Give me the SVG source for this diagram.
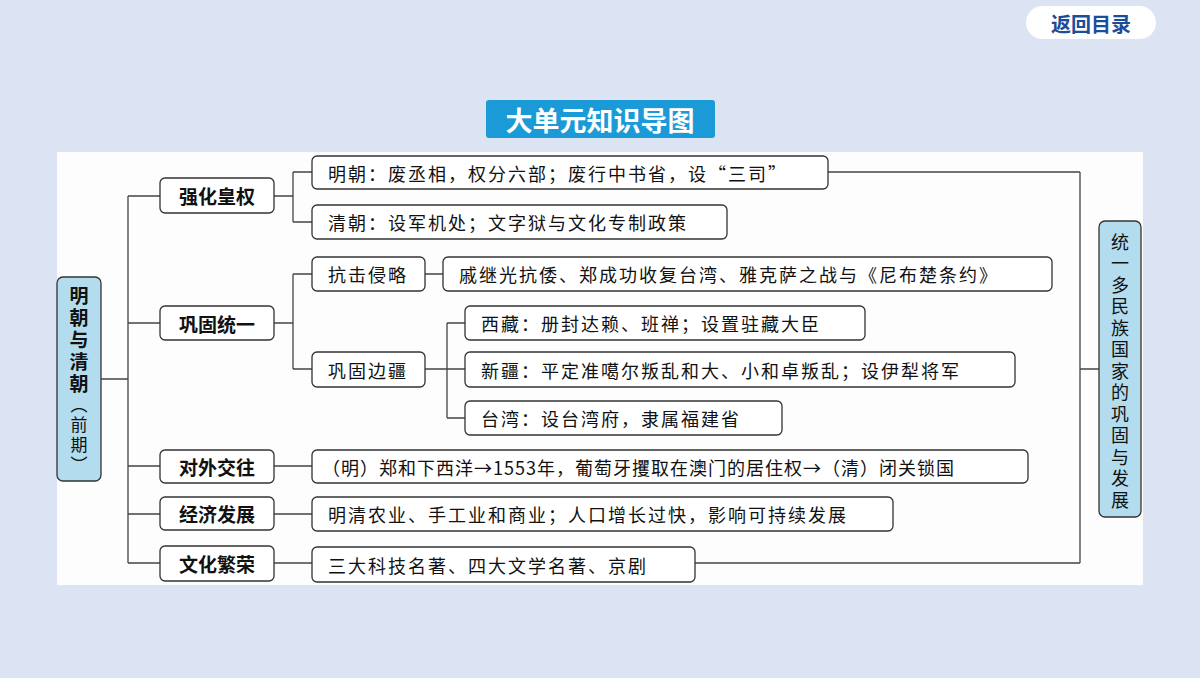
<svg xmlns="http://www.w3.org/2000/svg" width="1200" height="678" viewBox="0 0 1200 678">
<style>
.b{fill:#fff;stroke:#333;stroke-width:1.3}
.t{font-family:"Noto Sans CJK SC",sans-serif;font-size:18px;fill:#111;dominant-baseline:central;letter-spacing:2px}
.h{font-family:"Noto Sans CJK SC",sans-serif;font-size:19px;font-weight:bold;fill:#111;dominant-baseline:central;text-anchor:middle}
.vt{font-family:"Noto Sans CJK SC",sans-serif;font-size:18px;fill:#111;writing-mode:vertical-rl;text-anchor:start}
.c{fill:none;stroke:#444;stroke-width:1.3}
</style>
<rect width="1200" height="678" fill="#dce3f3"/>
<rect x="57" y="152" width="1086" height="433" fill="#fdfdfd"/>
<g id="back"><rect x="1026" y="6" width="130" height="33" rx="16.5" fill="#fff"/><text x="1091" y="23" style="font-family:'Noto Sans CJK SC',sans-serif;font-size:20px;font-weight:bold;fill:#1a4d9a;text-anchor:middle;dominant-baseline:central">返回目录</text></g>
<g id="title"><rect x="486" y="100" width="229" height="38" rx="3" fill="#1a9ad6"/><text x="600" y="119" style="font-family:'Noto Sans CJK SC',sans-serif;font-size:27px;font-weight:bold;fill:#fff;text-anchor:middle;dominant-baseline:central">大单元知识导图</text></g>
<g id="connectors" class="c">
<path d="M101 379H128M128 196V563M128 196H160M128 323H160M128 466H160M128 514H160M128 563H160"/>
<path d="M274 196H293M293 172V222M293 172H312M293 222H312"/>
<path d="M274 323H293M293 274V369M293 274H312M293 369H312"/>
<path d="M425 274H443M425 369H447M447 323V418M447 323H465M447 369H465M447 418H465"/>
<path d="M274 466H312M274 514H312M274 563H312"/>
<path d="M828 172H1080M695 563H1080M1080 172V563M1080 369H1099"/>
</g>
<g id="root"><rect x="57" y="277" width="44" height="204" rx="6" fill="#b3dcef" stroke="#333" stroke-width="1.3"/>
<text class="vt" x="79" y="286" style="letter-spacing:3px"><tspan style="font-weight:bold;font-size:19px">明朝与清朝</tspan><tspan style="font-size:17px">（前期）</tspan></text></g>
<g id="goal"><rect x="1099" y="221" width="42" height="296" rx="6" fill="#b3dcef" stroke="#333" stroke-width="1.3"/>
<text class="vt" x="1120" y="233" style="letter-spacing:3.5px">统一多民族国家的巩固与发展</text></g>
<g id="n1"><rect class="b" x="160" y="178" width="114" height="35" rx="5"/><text class="h" x="217" y="195.5">强化皇权</text></g>
<g id="n2"><rect class="b" x="160" y="306" width="114" height="34" rx="5"/><text class="h" x="217" y="323">巩固统一</text></g>
<g id="n3"><rect class="b" x="160" y="450" width="114" height="33" rx="5"/><text class="h" x="217" y="466.5">对外交往</text></g>
<g id="n4"><rect class="b" x="160" y="497" width="114" height="33" rx="5"/><text class="h" x="217" y="513.5">经济发展</text></g>
<g id="n5"><rect class="b" x="160" y="546" width="114" height="35" rx="5"/><text class="h" x="217" y="563.5">文化繁荣</text></g>
<g id="m1"><rect class="b" x="312" y="156" width="516" height="33" rx="5"/><text class="t" x="328" y="172.5">明朝：废丞相，权分六部；废行中书省，设“三司”</text></g>
<g id="m2"><rect class="b" x="312" y="205" width="415" height="34" rx="5"/><text class="t" x="328" y="222">清朝：设军机处；文字狱与文化专制政策</text></g>
<g id="m3"><rect class="b" x="312" y="257" width="113" height="34" rx="5"/><text class="t" x="328" y="274">抗击侵略</text></g>
<g id="m4"><rect class="b" x="443" y="257" width="609" height="34" rx="5"/><text class="t" x="459" y="274">戚继光抗倭、郑成功收复台湾、雅克萨之战与《尼布楚条约》</text></g>
<g id="m5"><rect class="b" x="312" y="352" width="113" height="35" rx="5"/><text class="t" x="328" y="369.5">巩固边疆</text></g>
<g id="m6"><rect class="b" x="465" y="306" width="400" height="34" rx="5"/><text class="t" x="481" y="323">西藏：册封达赖、班禅；设置驻藏大臣</text></g>
<g id="m7"><rect class="b" x="465" y="352" width="550" height="35" rx="5"/><text class="t" x="481" y="369.5">新疆：平定准噶尔叛乱和大、小和卓叛乱；设伊犁将军</text></g>
<g id="m8"><rect class="b" x="465" y="401" width="317" height="34" rx="5"/><text class="t" x="481" y="418">台湾：设台湾府，隶属福建省</text></g>
<g id="m9"><rect class="b" x="312" y="450" width="716" height="33" rx="5"/><text class="t" x="322" y="466.5" style="letter-spacing:1px">（明）郑和下西洋→1553年，葡萄牙攫取在澳门的居住权→（清）闭关锁国</text></g>
<g id="m10"><rect class="b" x="312" y="497" width="581" height="34" rx="5"/><text class="t" x="328" y="514">明清农业、手工业和商业；人口增长过快，影响可持续发展</text></g>
<g id="m11"><rect class="b" x="312" y="547" width="383" height="35" rx="5"/><text class="t" x="328" y="564.5">三大科技名著、四大文学名著、京剧</text></g>
</svg>
